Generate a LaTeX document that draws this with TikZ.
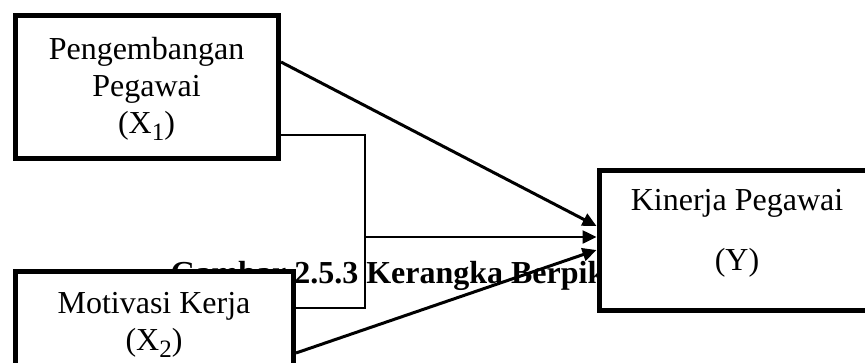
\documentclass[tikz,border=0pt]{standalone}
\usepackage{fontspec}
\setmainfont{Liberation Serif}
\usetikzlibrary{arrows.meta,calc}

\tikzset{
  box/.style={draw, line width=5.5pt, fill=white, rectangle, inner sep=0pt, anchor=north west},
  boxtext/.style={font=\fontsize{32}{37}\selectfont, align=center, inner sep=0pt, anchor=base},
  captext/.style={font=\fontsize{32}{37}\selectfont\bfseries, inner sep=0pt, anchor=base west},
  link/.style={line width=3pt, -{Triangle[length=14pt,width=13pt]}},
  elbow/.style={line width=1.6pt},
}
% lowered index digit, as in X_1
\newcommand{\lowidx}[1]{\raisebox{-7pt}{\fontsize{25}{25}\selectfont #1}}

\begin{document}
\begin{tikzpicture}[x=1pt,y=-1pt]
\useasboundingbox (0,0) rectangle (865,362);
\clip (0,0) rectangle (865,362);

% caption, partly covered by the boxes
\node[captext] (cap) at (170.5,283) {Gambar 2.5.3 Kerangka Berpikir};

% boxes
\node[box, minimum width=263pt, minimum height=143pt] (pp) at (12.5,12.5) {};
\node[box, minimum width=278pt, minimum height=143pt] (mk) at (12.5,268.5) {};
\node[box, minimum width=276pt, minimum height=140pt] (ky) at (596.5,167.5) {};

% box texts (placed by the baseline of their last line)
\node[boxtext] (pp-t) at (146.5,133) {Pengembangan\\Pegawai\\(X\lowidx{1})};
\node[boxtext] (mk-t) at (154,350) {Motivasi Kerja\\(X\lowidx{2})};
\node[boxtext] (ky-t) at (737,270) {Kinerja Pegawai\\[23pt](Y)};

% connectors
\coordinate (p2) at ($(pp.north east)+(0,122.5)$);
\coordinate (m2) at ($(mk.north east)+(0,39.5)$);
\coordinate (split) at (365,237);

\draw[link] ($(pp.north east)+(0,49.5)$) -- ($(ky.north west)+(0,58.5)$);
\draw[elbow] (p2) -| (split |- m2) -- (m2);
\draw[link, line width=2.5pt] (split) -- (split -| ky.west);
\draw[link] ($(mk.north east)+(0,84.5)$) -- ($(ky.north west)+(0,82.5)$);
\end{tikzpicture}
\end{document}
